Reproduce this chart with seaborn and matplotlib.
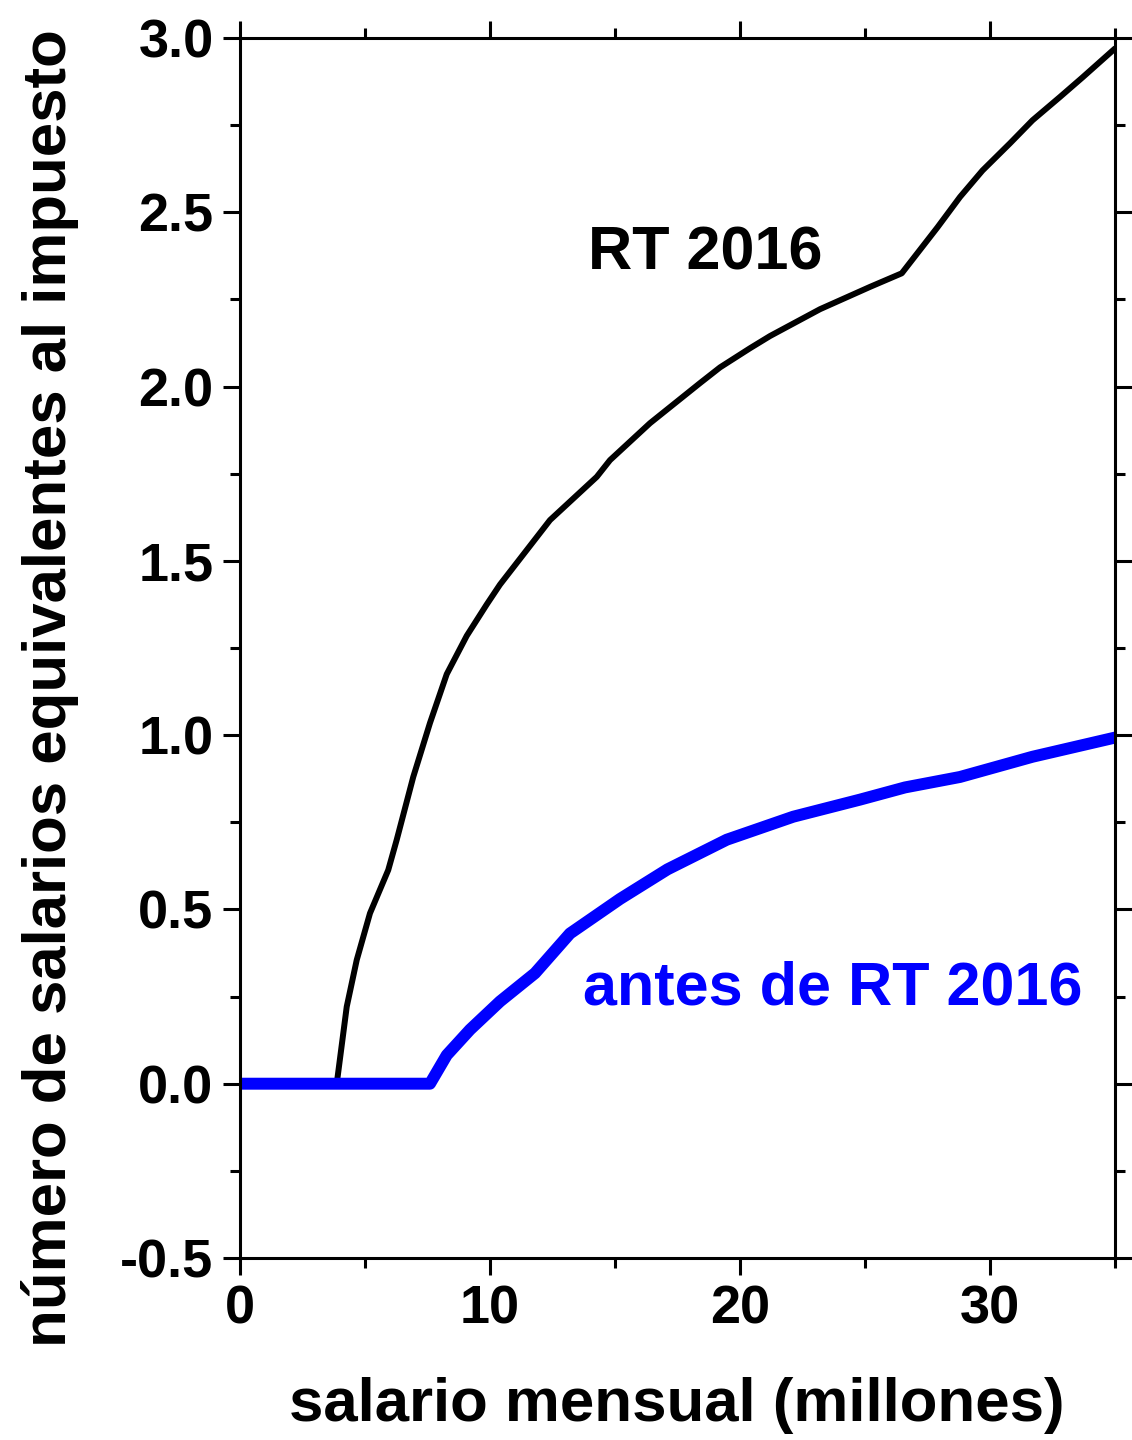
import numpy as np
import pandas as pd
import matplotlib
matplotlib.use("Agg")
import matplotlib.pyplot as plt
import seaborn as sns
from matplotlib.ticker import MultipleLocator, FormatStrFormatter

# RT 2016 curve (salary in millions, number of salaries paid as tax)
rt_x = [0.0, 3.87, 4.27, 4.67, 5.2, 5.93, 6.27, 6.93, 7.6, 8.27, 9.07, 9.87, 10.4,
        12.4, 14.27, 14.8, 16.4, 18.4, 19.2, 20.4, 21.2, 23.2, 25.2, 26.47,
        27.9, 28.8, 29.7, 30.8, 31.7, 32.8, 33.7, 35.0]
rt_y = [0.0, 0.0, 0.221, 0.355, 0.489, 0.613, 0.70, 0.88, 1.035, 1.175, 1.285, 1.375, 1.432,
        1.617, 1.741, 1.789, 1.895, 2.01, 2.055, 2.11, 2.145, 2.222, 2.286, 2.325,
        2.457, 2.544, 2.62, 2.698, 2.764, 2.831, 2.887, 2.97]

# before RT 2016 curve
antes_x = [0.0, 7.6, 8.27, 9.2, 10.4, 11.8, 13.2, 15.2, 17.1, 19.47, 22.13, 24.8,
           26.6, 28.8, 31.7, 35.0]
antes_y = [0.0, 0.0, 0.082, 0.155, 0.236, 0.317, 0.431, 0.53, 0.615, 0.70, 0.766, 0.815,
           0.85, 0.88, 0.938, 0.993]

sns.set_theme(style="ticks")
plt.rcParams['font.family'] = ['Liberation Sans', 'DejaVu Sans']
plt.rcParams['font.weight'] = 'bold'
plt.rcParams['text.color'] = 'black'
plt.rcParams['xtick.color'] = 'black'
plt.rcParams['ytick.color'] = 'black'
plt.rcParams['axes.labelcolor'] = 'black'

fig = plt.figure(figsize=(11.32, 14.4), dpi=100)
ax = fig.add_axes([0.212, 0.1264, 0.773, 0.8472])

df_rt = pd.DataFrame({"x": rt_x, "y": rt_y})
df_antes = pd.DataFrame({"x": antes_x, "y": antes_y})
sns.lineplot(data=df_rt, x="x", y="y", ax=ax, color="black", linewidth=4.3, sort=False)
sns.lineplot(data=df_antes, x="x", y="y", ax=ax, color="#0000ff", linewidth=8.6, sort=False)

ax.set_xlim(0, 35)
ax.set_ylim(-0.5, 3.0)
ax.xaxis.set_major_locator(MultipleLocator(10))
ax.xaxis.set_minor_locator(MultipleLocator(5))
ax.yaxis.set_major_locator(MultipleLocator(0.5))
ax.yaxis.set_minor_locator(MultipleLocator(0.25))
ax.yaxis.set_major_formatter(FormatStrFormatter('%.1f'))

for s in ax.spines.values():
    s.set_linewidth(2.2)
    s.set_color("black")
ax.tick_params(which="both", direction="out", top=True, right=True, width=2.2, color="black")
ax.tick_params(which="major", length=12, labelsize=39, pad=7, labelcolor="black")
ax.tick_params(which="minor", length=7)
for lab in ax.get_xticklabels() + ax.get_yticklabels():
    lab.set_fontweight("bold")

ax.set_xlabel("")
ax.set_ylabel("")
fig.text(0.598, 1 - 1405 / 1440, "salario mensual (millones)", ha="center", va="center",
         fontsize=44.5, fontweight="bold", color="black")
fig.text(50 / 1132, 1 - 688 / 1440, "número de salarios equivalentes al impuesto", ha="center",
         va="center", rotation=90, fontsize=44.5, fontweight="bold", color="black")

ax.text(18.6, 2.38, "RT 2016", ha="center", va="center", fontsize=44, fontweight="bold", color="black")
ax.text(23.7, 0.272, "antes de RT 2016", ha="center", va="center", fontsize=44,
        fontweight="bold", color="#0000ff")

fig.savefig("out.png", dpi=100, facecolor="white")
